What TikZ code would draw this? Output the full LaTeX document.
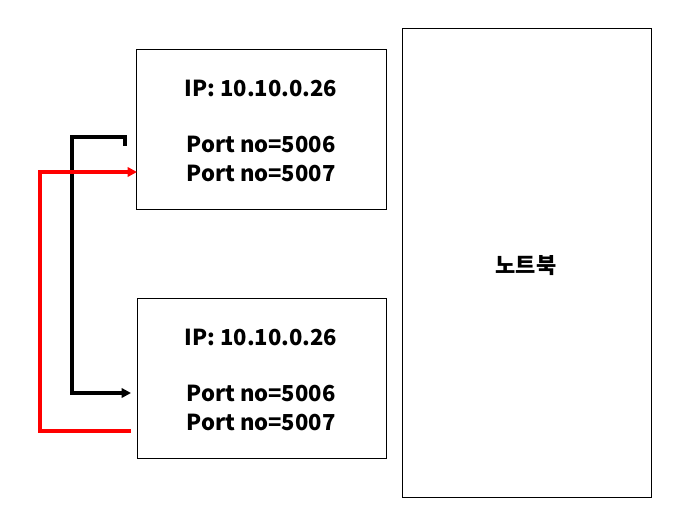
\documentclass[tikz,border=0pt]{standalone}
\usepackage{fontspec}
\setmainfont{Noto Sans CJK KR}
\usetikzlibrary{arrows.meta}
\begin{document}
\begin{tikzpicture}[x=0.75pt,y=-0.75pt,
    box/.style={draw=black,line width=1pt,anchor=north west,inner sep=0pt},
    txt/.style={font=\fontsize{16.5}{22}\selectfont\bfseries,align=center},
    link/.style={line width=2.5pt,-{Triangle[length=7pt,width=7pt]}}]
  \useasboundingbox (0,0) rectangle (678,524);

  % boxes
  \node[box,minimum width=250*0.75pt,minimum height=160*0.75pt] (top) at (136,49) {};
  \node[box,minimum width=249*0.75pt,minimum height=160*0.75pt] (bot) at (137,298) {};
  \node[box,minimum width=249*0.75pt,minimum height=469*0.75pt] (pc) at (402,28) {};

  \node[txt] (topip) at (261,88) {IP: 10.10.0.26};
  \node[txt] (topport) at (261,159) {Port no=5006\\Port no=5007};
  \node[txt] (botip) at (261,337) {IP: 10.10.0.26};
  \node[txt] (botport) at (261,408) {Port no=5006\\Port no=5007};
  \node[txt] (pclabel) at (526,266) {노트북};

  % connectors
  \coordinate (bstart) at (125,146);
  \coordinate (bend) at (131,393);
  \coordinate (rstart) at (131,431);
  \coordinate (rend) at (137,172);
  \draw[link] (bstart) |- (72,137) |- (bend);
  \draw[link,draw=red,-{Triangle[length=7pt,width=7pt,fill=red]}] (rstart) -| (40,172) -- (rend);
\end{tikzpicture}
\end{document}
